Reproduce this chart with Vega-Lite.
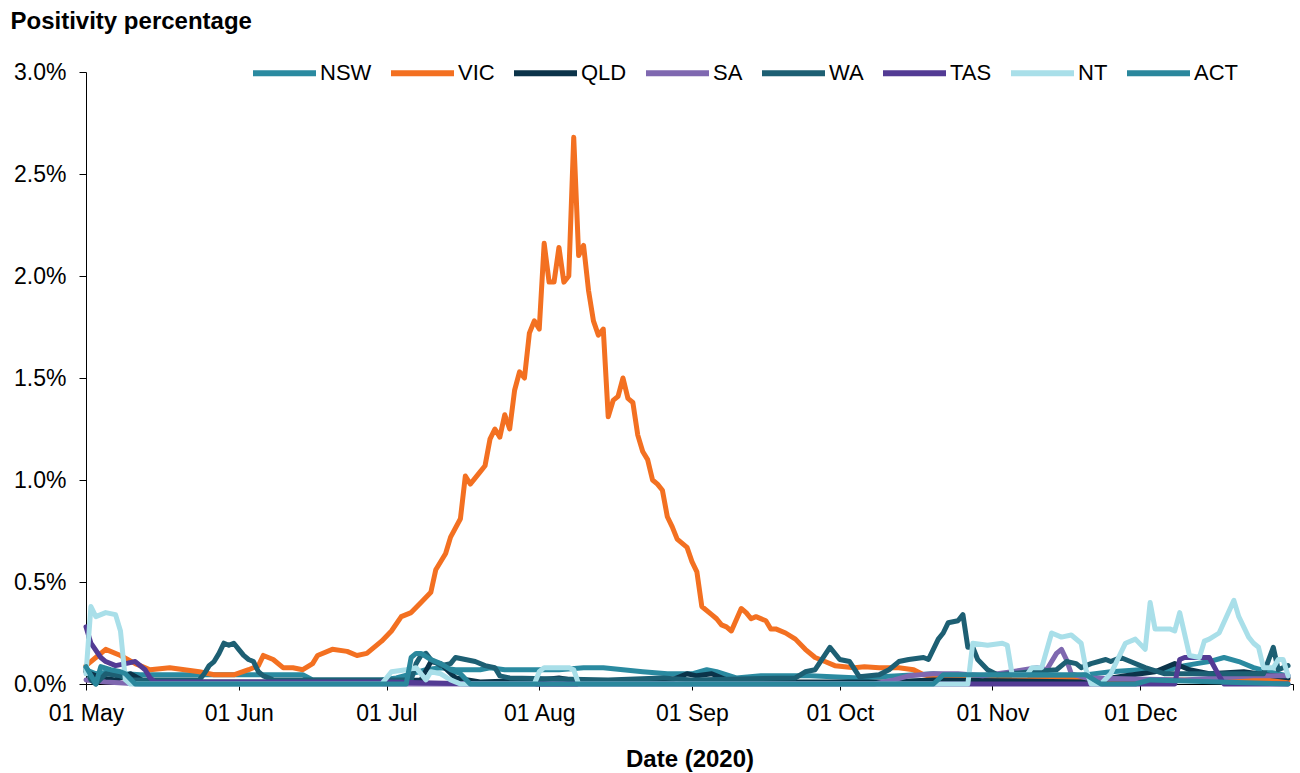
{
  "$schema": "https://vega.github.io/schema/vega-lite/v6.json",
  "width": 1207,
  "height": 612,
  "autosize": {"type": "none"},
  "padding": {"left": 86, "top": 72, "right": 7, "bottom": 89},
  "background": "white",
  "config": {
    "view": {"stroke": null},
    "font": "Liberation Sans",
    "axis": {"grid": false, "domainColor": "black", "tickColor": "black", "labelColor": "black", "titleColor": "black", "labelFont": "Liberation Sans", "titleFont": "Liberation Sans"}
  },
  "data": {
    "values": [
      {"d":"2020-05-01","s":"NSW","v":0.07},{"d":"2020-05-03","s":"NSW","v":0.05},{"d":"2020-05-06","s":"NSW","v":0.06},{"d":"2020-05-09","s":"NSW","v":0.05},{"d":"2020-05-12","s":"NSW","v":0.045},{"d":"2020-06-14","s":"NSW","v":0.045},{"d":"2020-06-16","s":"NSW","v":0.02},{"d":"2020-06-30","s":"NSW","v":0.02},{"d":"2020-07-03","s":"NSW","v":0.03},{"d":"2020-07-06","s":"NSW","v":0.05},{"d":"2020-07-09","s":"NSW","v":0.07},{"d":"2020-07-12","s":"NSW","v":0.08},{"d":"2020-07-15","s":"NSW","v":0.07},{"d":"2020-07-20","s":"NSW","v":0.07},{"d":"2020-07-22","s":"NSW","v":0.08},{"d":"2020-07-25","s":"NSW","v":0.07},{"d":"2020-08-05","s":"NSW","v":0.07},{"d":"2020-08-10","s":"NSW","v":0.08},{"d":"2020-08-14","s":"NSW","v":0.08},{"d":"2020-08-18","s":"NSW","v":0.07},{"d":"2020-08-22","s":"NSW","v":0.06},{"d":"2020-08-27","s":"NSW","v":0.05},{"d":"2020-09-01","s":"NSW","v":0.05},{"d":"2020-09-04","s":"NSW","v":0.07},{"d":"2020-09-06","s":"NSW","v":0.06},{"d":"2020-09-10","s":"NSW","v":0.03},{"d":"2020-09-15","s":"NSW","v":0.04},{"d":"2020-09-25","s":"NSW","v":0.04},{"d":"2020-10-05","s":"NSW","v":0.03},{"d":"2020-10-20","s":"NSW","v":0.05},{"d":"2020-10-25","s":"NSW","v":0.04},{"d":"2020-11-05","s":"NSW","v":0.03},{"d":"2020-11-15","s":"NSW","v":0.03},{"d":"2020-11-25","s":"NSW","v":0.06},{"d":"2020-12-01","s":"NSW","v":0.07},{"d":"2020-12-05","s":"NSW","v":0.06},{"d":"2020-12-10","s":"NSW","v":0.09},{"d":"2020-12-15","s":"NSW","v":0.11},{"d":"2020-12-18","s":"NSW","v":0.13},{"d":"2020-12-21","s":"NSW","v":0.11},{"d":"2020-12-24","s":"NSW","v":0.08},{"d":"2020-12-27","s":"NSW","v":0.06},{"d":"2020-12-31","s":"NSW","v":0.04},

      {"d":"2020-05-01","s":"VIC","v":0.09},{"d":"2020-05-03","s":"VIC","v":0.13},{"d":"2020-05-05","s":"VIC","v":0.17},{"d":"2020-05-08","s":"VIC","v":0.14},{"d":"2020-05-11","s":"VIC","v":0.10},{"d":"2020-05-14","s":"VIC","v":0.07},{"d":"2020-05-18","s":"VIC","v":0.08},{"d":"2020-05-21","s":"VIC","v":0.07},{"d":"2020-05-24","s":"VIC","v":0.06},{"d":"2020-05-27","s":"VIC","v":0.045},{"d":"2020-05-31","s":"VIC","v":0.045},{"d":"2020-06-03","s":"VIC","v":0.07},{"d":"2020-06-05","s":"VIC","v":0.09},{"d":"2020-06-06","s":"VIC","v":0.14},{"d":"2020-06-08","s":"VIC","v":0.12},{"d":"2020-06-10","s":"VIC","v":0.08},{"d":"2020-06-12","s":"VIC","v":0.08},{"d":"2020-06-14","s":"VIC","v":0.07},{"d":"2020-06-16","s":"VIC","v":0.10},{"d":"2020-06-17","s":"VIC","v":0.14},{"d":"2020-06-20","s":"VIC","v":0.17},{"d":"2020-06-23","s":"VIC","v":0.16},{"d":"2020-06-25","s":"VIC","v":0.14},{"d":"2020-06-27","s":"VIC","v":0.15},{"d":"2020-06-30","s":"VIC","v":0.21},{"d":"2020-07-02","s":"VIC","v":0.26},{"d":"2020-07-04","s":"VIC","v":0.33},{"d":"2020-07-06","s":"VIC","v":0.35},{"d":"2020-07-08","s":"VIC","v":0.40},{"d":"2020-07-10","s":"VIC","v":0.45},{"d":"2020-07-11","s":"VIC","v":0.56},{"d":"2020-07-13","s":"VIC","v":0.64},{"d":"2020-07-14","s":"VIC","v":0.72},{"d":"2020-07-16","s":"VIC","v":0.81},{"d":"2020-07-17","s":"VIC","v":1.02},{"d":"2020-07-18","s":"VIC","v":0.98},{"d":"2020-07-20","s":"VIC","v":1.04},{"d":"2020-07-21","s":"VIC","v":1.07},{"d":"2020-07-22","s":"VIC","v":1.20},{"d":"2020-07-23","s":"VIC","v":1.25},{"d":"2020-07-24","s":"VIC","v":1.21},{"d":"2020-07-25","s":"VIC","v":1.32},{"d":"2020-07-26","s":"VIC","v":1.25},{"d":"2020-07-27","s":"VIC","v":1.44},{"d":"2020-07-28","s":"VIC","v":1.53},{"d":"2020-07-29","s":"VIC","v":1.50},{"d":"2020-07-30","s":"VIC","v":1.72},{"d":"2020-07-31","s":"VIC","v":1.78},{"d":"2020-08-01","s":"VIC","v":1.74},{"d":"2020-08-02","s":"VIC","v":2.16},{"d":"2020-08-03","s":"VIC","v":1.97},{"d":"2020-08-04","s":"VIC","v":1.97},{"d":"2020-08-05","s":"VIC","v":2.14},{"d":"2020-08-06","s":"VIC","v":1.97},{"d":"2020-08-07","s":"VIC","v":2.00},{"d":"2020-08-08","s":"VIC","v":2.68},{"d":"2020-08-09","s":"VIC","v":2.10},{"d":"2020-08-10","s":"VIC","v":2.15},{"d":"2020-08-11","s":"VIC","v":1.93},{"d":"2020-08-12","s":"VIC","v":1.78},{"d":"2020-08-13","s":"VIC","v":1.71},{"d":"2020-08-14","s":"VIC","v":1.74},{"d":"2020-08-15","s":"VIC","v":1.31},{"d":"2020-08-16","s":"VIC","v":1.39},{"d":"2020-08-17","s":"VIC","v":1.41},{"d":"2020-08-18","s":"VIC","v":1.50},{"d":"2020-08-19","s":"VIC","v":1.40},{"d":"2020-08-20","s":"VIC","v":1.38},{"d":"2020-08-21","s":"VIC","v":1.22},{"d":"2020-08-22","s":"VIC","v":1.14},{"d":"2020-08-23","s":"VIC","v":1.10},{"d":"2020-08-24","s":"VIC","v":1.00},{"d":"2020-08-25","s":"VIC","v":0.98},{"d":"2020-08-26","s":"VIC","v":0.95},{"d":"2020-08-27","s":"VIC","v":0.82},{"d":"2020-08-28","s":"VIC","v":0.77},{"d":"2020-08-29","s":"VIC","v":0.71},{"d":"2020-08-31","s":"VIC","v":0.67},{"d":"2020-09-01","s":"VIC","v":0.60},{"d":"2020-09-02","s":"VIC","v":0.55},{"d":"2020-09-03","s":"VIC","v":0.38},{"d":"2020-09-05","s":"VIC","v":0.34},{"d":"2020-09-06","s":"VIC","v":0.32},{"d":"2020-09-07","s":"VIC","v":0.29},{"d":"2020-09-08","s":"VIC","v":0.28},{"d":"2020-09-09","s":"VIC","v":0.26},{"d":"2020-09-11","s":"VIC","v":0.37},{"d":"2020-09-12","s":"VIC","v":0.35},{"d":"2020-09-13","s":"VIC","v":0.32},{"d":"2020-09-14","s":"VIC","v":0.33},{"d":"2020-09-16","s":"VIC","v":0.31},{"d":"2020-09-17","s":"VIC","v":0.27},{"d":"2020-09-18","s":"VIC","v":0.27},{"d":"2020-09-20","s":"VIC","v":0.25},{"d":"2020-09-22","s":"VIC","v":0.22},{"d":"2020-09-24","s":"VIC","v":0.17},{"d":"2020-09-26","s":"VIC","v":0.13},{"d":"2020-09-28","s":"VIC","v":0.11},{"d":"2020-09-30","s":"VIC","v":0.09},{"d":"2020-10-02","s":"VIC","v":0.085},{"d":"2020-10-04","s":"VIC","v":0.08},{"d":"2020-10-06","s":"VIC","v":0.085},{"d":"2020-10-09","s":"VIC","v":0.08},{"d":"2020-10-13","s":"VIC","v":0.08},{"d":"2020-10-16","s":"VIC","v":0.07},{"d":"2020-10-18","s":"VIC","v":0.045},{"d":"2020-10-21","s":"VIC","v":0.03},{"d":"2020-10-28","s":"VIC","v":0.02},{"d":"2020-11-15","s":"VIC","v":0.02},{"d":"2020-12-10","s":"VIC","v":0.02},{"d":"2020-12-31","s":"VIC","v":0.02},

      {"d":"2020-05-01","s":"QLD","v":0.06},{"d":"2020-05-04","s":"QLD","v":0.03},{"d":"2020-05-07","s":"QLD","v":0.02},{"d":"2020-05-10","s":"QLD","v":0.05},{"d":"2020-05-13","s":"QLD","v":0.01},{"d":"2020-06-30","s":"QLD","v":0.01},{"d":"2020-07-08","s":"QLD","v":0.02},{"d":"2020-07-10","s":"QLD","v":0.11},{"d":"2020-07-12","s":"QLD","v":0.10},{"d":"2020-07-15","s":"QLD","v":0.03},{"d":"2020-07-20","s":"QLD","v":0.01},{"d":"2020-08-01","s":"QLD","v":0.02},{"d":"2020-08-05","s":"QLD","v":0.03},{"d":"2020-08-10","s":"QLD","v":0.01},{"d":"2020-08-28","s":"QLD","v":0.02},{"d":"2020-08-31","s":"QLD","v":0.05},{"d":"2020-09-02","s":"QLD","v":0.04},{"d":"2020-09-05","s":"QLD","v":0.05},{"d":"2020-09-08","s":"QLD","v":0.02},{"d":"2020-09-15","s":"QLD","v":0.01},{"d":"2020-10-10","s":"QLD","v":0.01},{"d":"2020-10-20","s":"QLD","v":0.02},{"d":"2020-11-20","s":"QLD","v":0.01},{"d":"2020-11-28","s":"QLD","v":0.04},{"d":"2020-12-04","s":"QLD","v":0.06},{"d":"2020-12-08","s":"QLD","v":0.10},{"d":"2020-12-11","s":"QLD","v":0.07},{"d":"2020-12-15","s":"QLD","v":0.05},{"d":"2020-12-22","s":"QLD","v":0.06},{"d":"2020-12-31","s":"QLD","v":0.03},

      {"d":"2020-05-01","s":"SA","v":0.02},{"d":"2020-05-05","s":"SA","v":0.01},{"d":"2020-05-12","s":"SA","v":0.0},{"d":"2020-10-08","s":"SA","v":0.0},{"d":"2020-10-12","s":"SA","v":0.02},{"d":"2020-10-15","s":"SA","v":0.04},{"d":"2020-10-20","s":"SA","v":0.05},{"d":"2020-10-25","s":"SA","v":0.05},{"d":"2020-10-30","s":"SA","v":0.04},{"d":"2020-11-05","s":"SA","v":0.06},{"d":"2020-11-10","s":"SA","v":0.08},{"d":"2020-11-12","s":"SA","v":0.07},{"d":"2020-11-14","s":"SA","v":0.15},{"d":"2020-11-15","s":"SA","v":0.17},{"d":"2020-11-16","s":"SA","v":0.12},{"d":"2020-11-17","s":"SA","v":0.05},{"d":"2020-11-20","s":"SA","v":0.03},{"d":"2020-12-10","s":"SA","v":0.02},{"d":"2020-12-24","s":"SA","v":0.04},{"d":"2020-12-31","s":"SA","v":0.04},

      {"d":"2020-05-01","s":"WA","v":0.08},{"d":"2020-05-02","s":"WA","v":0.02},{"d":"2020-05-03","s":"WA","v":0.0},{"d":"2020-05-05","s":"WA","v":0.05},{"d":"2020-05-08","s":"WA","v":0.04},{"d":"2020-05-10","s":"WA","v":0.02},{"d":"2020-05-24","s":"WA","v":0.02},{"d":"2020-05-25","s":"WA","v":0.05},{"d":"2020-05-26","s":"WA","v":0.09},{"d":"2020-05-27","s":"WA","v":0.11},{"d":"2020-05-28","s":"WA","v":0.15},{"d":"2020-05-29","s":"WA","v":0.20},{"d":"2020-05-30","s":"WA","v":0.19},{"d":"2020-05-31","s":"WA","v":0.20},{"d":"2020-06-01","s":"WA","v":0.17},{"d":"2020-06-02","s":"WA","v":0.14},{"d":"2020-06-03","s":"WA","v":0.12},{"d":"2020-06-04","s":"WA","v":0.11},{"d":"2020-06-05","s":"WA","v":0.06},{"d":"2020-06-06","s":"WA","v":0.04},{"d":"2020-06-08","s":"WA","v":0.02},{"d":"2020-07-06","s":"WA","v":0.02},{"d":"2020-07-07","s":"WA","v":0.10},{"d":"2020-07-08","s":"WA","v":0.14},{"d":"2020-07-09","s":"WA","v":0.15},{"d":"2020-07-10","s":"WA","v":0.12},{"d":"2020-07-12","s":"WA","v":0.09},{"d":"2020-07-14","s":"WA","v":0.10},{"d":"2020-07-15","s":"WA","v":0.13},{"d":"2020-07-17","s":"WA","v":0.12},{"d":"2020-07-19","s":"WA","v":0.11},{"d":"2020-07-21","s":"WA","v":0.09},{"d":"2020-07-23","s":"WA","v":0.08},{"d":"2020-07-24","s":"WA","v":0.04},{"d":"2020-07-26","s":"WA","v":0.03},{"d":"2020-08-15","s":"WA","v":0.02},{"d":"2020-08-26","s":"WA","v":0.03},{"d":"2020-09-01","s":"WA","v":0.02},{"d":"2020-09-22","s":"WA","v":0.03},{"d":"2020-09-24","s":"WA","v":0.06},{"d":"2020-09-26","s":"WA","v":0.07},{"d":"2020-09-29","s":"WA","v":0.18},{"d":"2020-10-01","s":"WA","v":0.12},{"d":"2020-10-03","s":"WA","v":0.11},{"d":"2020-10-05","s":"WA","v":0.035},{"d":"2020-10-09","s":"WA","v":0.045},{"d":"2020-10-11","s":"WA","v":0.07},{"d":"2020-10-13","s":"WA","v":0.11},{"d":"2020-10-15","s":"WA","v":0.12},{"d":"2020-10-18","s":"WA","v":0.13},{"d":"2020-10-19","s":"WA","v":0.12},{"d":"2020-10-21","s":"WA","v":0.22},{"d":"2020-10-22","s":"WA","v":0.25},{"d":"2020-10-23","s":"WA","v":0.30},{"d":"2020-10-25","s":"WA","v":0.31},{"d":"2020-10-26","s":"WA","v":0.34},{"d":"2020-10-27","s":"WA","v":0.18},{"d":"2020-10-28","s":"WA","v":0.18},{"d":"2020-10-29","s":"WA","v":0.12},{"d":"2020-10-31","s":"WA","v":0.07},{"d":"2020-11-02","s":"WA","v":0.045},{"d":"2020-11-09","s":"WA","v":0.06},{"d":"2020-11-14","s":"WA","v":0.07},{"d":"2020-11-16","s":"WA","v":0.11},{"d":"2020-11-18","s":"WA","v":0.10},{"d":"2020-11-19","s":"WA","v":0.08},{"d":"2020-11-21","s":"WA","v":0.10},{"d":"2020-11-24","s":"WA","v":0.12},{"d":"2020-11-25","s":"WA","v":0.11},{"d":"2020-11-27","s":"WA","v":0.13},{"d":"2020-11-29","s":"WA","v":0.11},{"d":"2020-12-02","s":"WA","v":0.08},{"d":"2020-12-06","s":"WA","v":0.05},{"d":"2020-12-26","s":"WA","v":0.05},{"d":"2020-12-28","s":"WA","v":0.18},{"d":"2020-12-29","s":"WA","v":0.07},{"d":"2020-12-31","s":"WA","v":0.09},

      {"d":"2020-05-01","s":"TAS","v":0.28},{"d":"2020-05-02","s":"TAS","v":0.20},{"d":"2020-05-04","s":"TAS","v":0.13},{"d":"2020-05-05","s":"TAS","v":0.11},{"d":"2020-05-07","s":"TAS","v":0.09},{"d":"2020-05-09","s":"TAS","v":0.10},{"d":"2020-05-11","s":"TAS","v":0.11},{"d":"2020-05-13","s":"TAS","v":0.07},{"d":"2020-05-14","s":"TAS","v":0.03},{"d":"2020-05-15","s":"TAS","v":0.01},{"d":"2020-07-01","s":"TAS","v":0.01},{"d":"2020-07-20","s":"TAS","v":0.0},{"d":"2020-12-08","s":"TAS","v":0.0},{"d":"2020-12-09","s":"TAS","v":0.12},{"d":"2020-12-10","s":"TAS","v":0.13},{"d":"2020-12-15","s":"TAS","v":0.13},{"d":"2020-12-17","s":"TAS","v":0.04},{"d":"2020-12-18","s":"TAS","v":0.0},{"d":"2020-12-31","s":"TAS","v":0.0},

      {"d":"2020-05-01","s":"NT","v":0.05},{"d":"2020-05-02","s":"NT","v":0.38},{"d":"2020-05-03","s":"NT","v":0.33},{"d":"2020-05-05","s":"NT","v":0.35},{"d":"2020-05-07","s":"NT","v":0.34},{"d":"2020-05-08","s":"NT","v":0.26},{"d":"2020-05-09","s":"NT","v":0.02},{"d":"2020-05-10","s":"NT","v":0.0},{"d":"2020-06-30","s":"NT","v":0.0},{"d":"2020-07-02","s":"NT","v":0.06},{"d":"2020-07-05","s":"NT","v":0.07},{"d":"2020-07-07","s":"NT","v":0.08},{"d":"2020-07-09","s":"NT","v":0.02},{"d":"2020-07-10","s":"NT","v":0.06},{"d":"2020-07-12","s":"NT","v":0.05},{"d":"2020-07-14","s":"NT","v":0.02},{"d":"2020-07-16","s":"NT","v":0.0},{"d":"2020-07-31","s":"NT","v":0.0},{"d":"2020-08-01","s":"NT","v":0.06},{"d":"2020-08-02","s":"NT","v":0.08},{"d":"2020-08-07","s":"NT","v":0.08},{"d":"2020-08-08","s":"NT","v":0.07},{"d":"2020-08-09","s":"NT","v":0.0},{"d":"2020-10-27","s":"NT","v":0.0},{"d":"2020-10-28","s":"NT","v":0.20},{"d":"2020-10-31","s":"NT","v":0.19},{"d":"2020-11-03","s":"NT","v":0.20},{"d":"2020-11-04","s":"NT","v":0.19},{"d":"2020-11-05","s":"NT","v":0.045},{"d":"2020-11-08","s":"NT","v":0.045},{"d":"2020-11-09","s":"NT","v":0.08},{"d":"2020-11-11","s":"NT","v":0.08},{"d":"2020-11-13","s":"NT","v":0.25},{"d":"2020-11-15","s":"NT","v":0.23},{"d":"2020-11-17","s":"NT","v":0.24},{"d":"2020-11-19","s":"NT","v":0.20},{"d":"2020-11-20","s":"NT","v":0.07},{"d":"2020-11-21","s":"NT","v":0.0},{"d":"2020-11-23","s":"NT","v":0.0},{"d":"2020-11-25","s":"NT","v":0.05},{"d":"2020-11-27","s":"NT","v":0.15},{"d":"2020-11-28","s":"NT","v":0.20},{"d":"2020-11-30","s":"NT","v":0.22},{"d":"2020-12-02","s":"NT","v":0.17},{"d":"2020-12-03","s":"NT","v":0.40},{"d":"2020-12-04","s":"NT","v":0.27},{"d":"2020-12-07","s":"NT","v":0.27},{"d":"2020-12-08","s":"NT","v":0.26},{"d":"2020-12-09","s":"NT","v":0.35},{"d":"2020-12-11","s":"NT","v":0.14},{"d":"2020-12-13","s":"NT","v":0.13},{"d":"2020-12-14","s":"NT","v":0.21},{"d":"2020-12-15","s":"NT","v":0.22},{"d":"2020-12-17","s":"NT","v":0.25},{"d":"2020-12-20","s":"NT","v":0.41},{"d":"2020-12-21","s":"NT","v":0.33},{"d":"2020-12-23","s":"NT","v":0.23},{"d":"2020-12-24","s":"NT","v":0.20},{"d":"2020-12-25","s":"NT","v":0.18},{"d":"2020-12-26","s":"NT","v":0.08},{"d":"2020-12-28","s":"NT","v":0.08},{"d":"2020-12-29","s":"NT","v":0.12},{"d":"2020-12-30","s":"NT","v":0.12},{"d":"2020-12-31","s":"NT","v":0.04},

      {"d":"2020-05-01","s":"ACT","v":0.085},{"d":"2020-05-03","s":"ACT","v":0.0},{"d":"2020-05-04","s":"ACT","v":0.085},{"d":"2020-05-06","s":"ACT","v":0.07},{"d":"2020-05-08","s":"ACT","v":0.06},{"d":"2020-05-09","s":"ACT","v":0.05},{"d":"2020-05-11","s":"ACT","v":0.0},{"d":"2020-07-05","s":"ACT","v":0.0},{"d":"2020-07-06","s":"ACT","v":0.13},{"d":"2020-07-07","s":"ACT","v":0.15},{"d":"2020-07-08","s":"ACT","v":0.15},{"d":"2020-07-10","s":"ACT","v":0.12},{"d":"2020-07-12","s":"ACT","v":0.10},{"d":"2020-07-14","s":"ACT","v":0.07},{"d":"2020-07-16","s":"ACT","v":0.05},{"d":"2020-07-18","s":"ACT","v":0.0},{"d":"2020-10-20","s":"ACT","v":0.0},{"d":"2020-10-22","s":"ACT","v":0.045},{"d":"2020-11-20","s":"ACT","v":0.045},{"d":"2020-11-23","s":"ACT","v":0.0},{"d":"2020-11-30","s":"ACT","v":0.0},{"d":"2020-12-03","s":"ACT","v":0.02},{"d":"2020-12-31","s":"ACT","v":0.0}
    ]
  },
  "mark": {"type": "line", "strokeWidth": 5, "strokeJoin": "round", "strokeCap": "round", "clip": false},
  "encoding": {
    "x": {
      "field": "d", "type": "temporal",
      "scale": {"type": "utc", "domain": [{"year": 2020, "month": 5, "date": 1, "utc": true}, {"year": 2021, "month": 1, "date": 1, "utc": true}]},
      "axis": {
        "title": "Date (2020)", "titleFontSize": 24, "titleFontWeight": "bold", "titleBaseline": "alphabetic", "titleY": 82, "titleAnchor": "middle",
        "values": [
          {"year": 2020, "month": 5, "date": 1, "utc": true},
          {"year": 2020, "month": 6, "date": 1, "utc": true},
          {"year": 2020, "month": 7, "date": 1, "utc": true},
          {"year": 2020, "month": 8, "date": 1, "utc": true},
          {"year": 2020, "month": 9, "date": 1, "utc": true},
          {"year": 2020, "month": 10, "date": 1, "utc": true},
          {"year": 2020, "month": 11, "date": 1, "utc": true},
          {"year": 2020, "month": 12, "date": 1, "utc": true},
          {"year": 2021, "month": 1, "date": 1, "utc": true}
        ],
        "labelExpr": "utcyear(datum.value) > 2020 ? '' : utcFormat(datum.value, '%d %b')",
        "labelFontSize": 23, "labelBaseline": "alphabetic", "labelPadding": 30, "labelFlush": false, "labelOverlap": false,
        "tickSize": 6, "domainWidth": 1, "tickWidth": 1
      }
    },
    "y": {
      "field": "v", "type": "quantitative",
      "scale": {"domain": [0, 3], "nice": false, "zero": true},
      "axis": {
        "title": "Positivity percentage", "titleAngle": 0, "titleFontSize": 24, "titleFontWeight": "bold", "titleAlign": "left", "titleBaseline": "alphabetic", "titleX": -76, "titleY": -44,
        "values": [0, 0.5, 1, 1.5, 2, 2.5, 3],
        "labelExpr": "format(datum.value, '.1f') + '%'",
        "labelFontSize": 23, "labelPadding": 13, "tickSize": 7, "domainWidth": 1, "tickWidth": 1
      }
    },
    "color": {
      "field": "s", "type": "nominal",
      "scale": {"domain": ["NSW", "VIC", "QLD", "SA", "WA", "TAS", "NT", "ACT"], "range": ["#2a8aa0", "#f37021", "#0b3349", "#7f68b0", "#1d5f73", "#533b94", "#a9dfe9", "#2a879c"]},
      "legend": {
        "title": null, "orient": "none", "legendX": 164, "legendY": -33.5, "direction": "horizontal",
        "symbolType": "stroke", "symbolSize": 3969, "symbolStrokeWidth": 6,
        "labelFontSize": 22, "labelFont": "Liberation Sans", "labelColor": "black", "labelOffset": 1, "columnPadding": 7, "padding": 0
      }
    }
  }
}
